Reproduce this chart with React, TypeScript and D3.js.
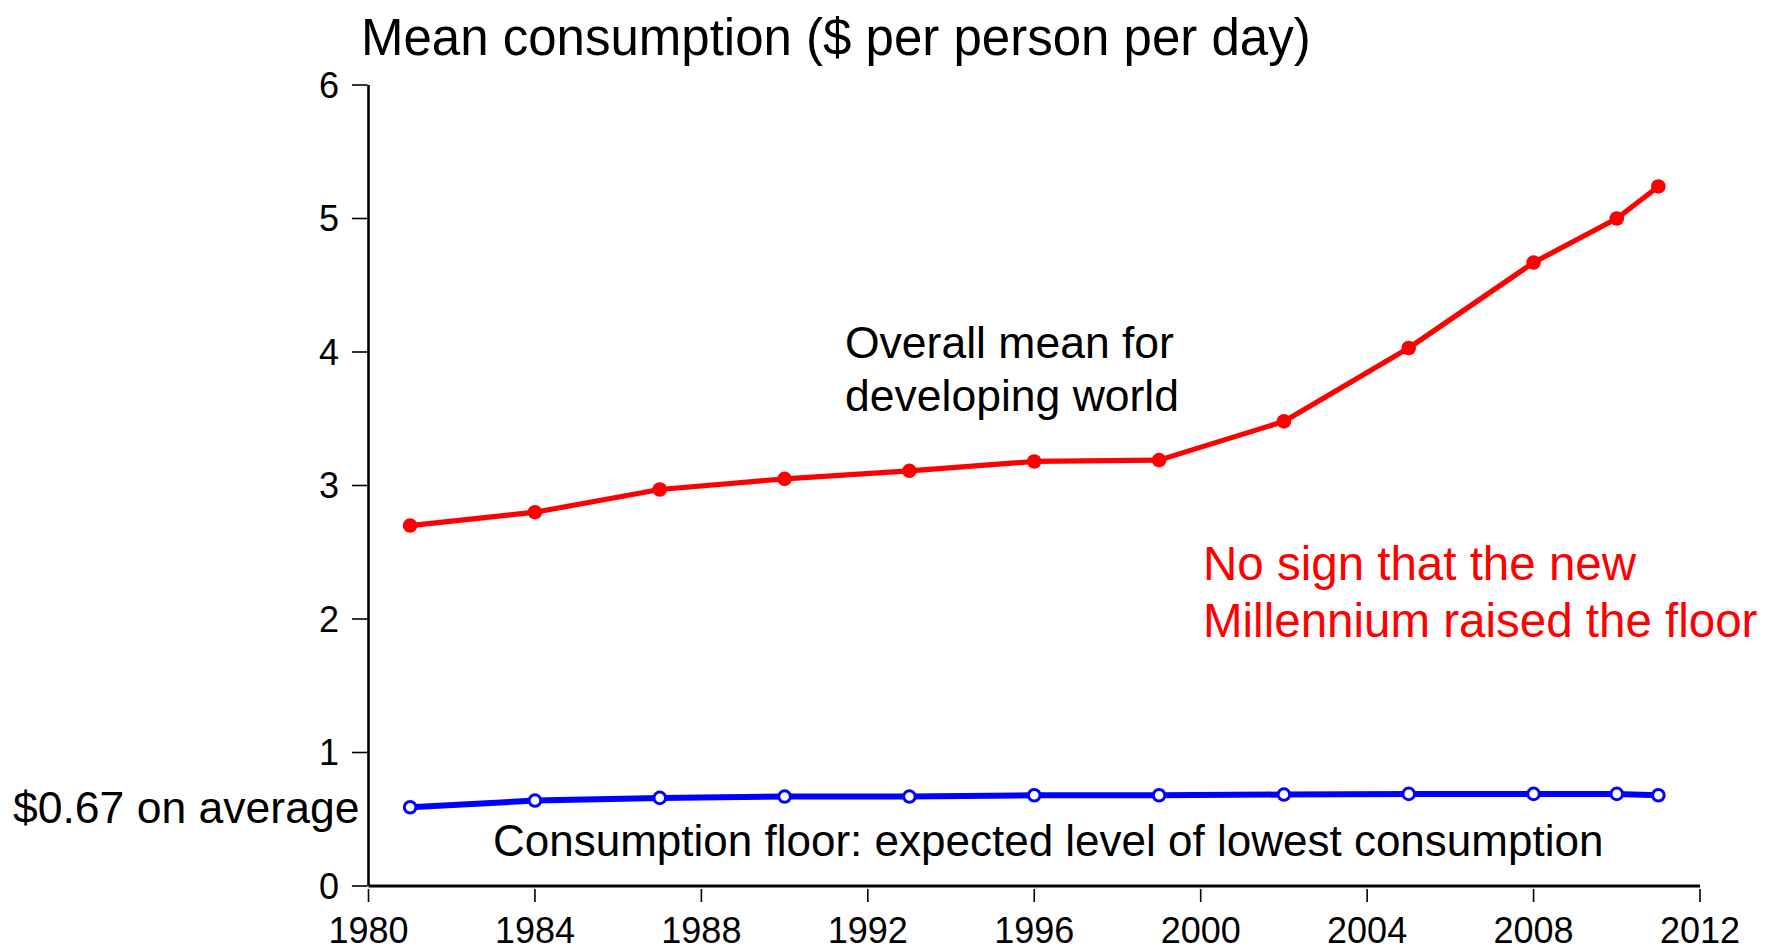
import React from "react";
import * as d3 from "d3";

const years = [1981, 1984, 1987, 1990, 1993, 1996, 1999, 2002, 2005, 2008, 2010, 2011];
const meanConsumption = [2.7, 2.8, 2.97, 3.05, 3.11, 3.18, 3.19, 3.48, 4.03, 4.67, 5.0, 5.24];
const consumptionFloor = [0.59, 0.64, 0.66, 0.67, 0.67, 0.68, 0.68, 0.685, 0.69, 0.69, 0.69, 0.68];
const xTicks = [1980, 1984, 1988, 1992, 1996, 2000, 2004, 2008, 2012];
const yTicks = [0, 1, 2, 3, 4, 5, 6];

const W = 1767;
const H = 947;
const FONT = "'Liberation Sans', Arial, Helvetica, sans-serif";

export default function App() {
  const x = d3.scaleLinear().domain([1980, 2012]).range([368.5, 1700]);
  const y = d3.scaleLinear().domain([0, 6]).range([886, 85]);

  const meanPts: [number, number][] = years.map((yr, i) => [x(yr), y(meanConsumption[i])]);
  const floorPts: [number, number][] = years.map((yr, i) => [x(yr), y(consumptionFloor[i])]);
  const line = d3.line<[number, number]>().x((d) => d[0]).y((d) => d[1]);

  const x0 = x(1980);
  const y0 = y(0);

  return (
    <svg
      width={W}
      height={H}
      viewBox={`0 0 ${W} ${H}`}
      style={{ position: "absolute", left: 0, top: 0, background: "#fff" }}
      fontFamily={FONT}
    >
      <rect x={0} y={0} width={W} height={H} fill="#fff" />
      {/* title */}
      <text x={361} y={55} fontSize={51} fill="#000">
        Mean consumption ($ per person per day)
      </text>

      {/* y axis */}
      <line x1={x0} x2={x0} y1={y(6)} y2={y0} stroke="#000" strokeWidth={2.6} />
      {yTicks.map((t) => (
        <g key={"y" + t}>
          <line x1={352} x2={x0 - 1} y1={y(t)} y2={y(t)} stroke="#000" strokeWidth={1.6} />
          <text x={339} y={y(t)} dy="0.36em" textAnchor="end" fontSize={36} fill="#000">
            {t}
          </text>
        </g>
      ))}

      {/* x axis */}
      <line x1={x0} x2={x(2012)} y1={y0} y2={y0} stroke="#000" strokeWidth={3} />
      {xTicks.map((t) => (
        <g key={"x" + t}>
          <line x1={x(t)} x2={x(t)} y1={y0 + 3} y2={902} stroke="#000" strokeWidth={1.6} />
          <text x={x(t)} y={943} textAnchor="middle" fontSize={36} fill="#000">
            {t}
          </text>
        </g>
      ))}

      {/* mean series */}
      <path d={line(meanPts) || ""} fill="none" stroke="#ff0000" strokeWidth={5.2} strokeLinejoin="round" />
      {meanPts.map((p, i) => (
        <circle key={"m" + i} cx={p[0]} cy={p[1]} r={7.3} fill="#ff0000" />
      ))}

      {/* floor series */}
      <path d={line(floorPts) || ""} fill="none" stroke="#0000ff" strokeWidth={6} strokeLinejoin="round" />
      {floorPts.map((p, i) => (
        <circle key={"f" + i} cx={p[0]} cy={p[1]} r={5.8} fill="#fff" stroke="#0000ff" strokeWidth={3} />
      ))}

      {/* annotations */}
      <text x={845} y={358} fontSize={44.5} fill="#000">
        Overall mean for
      </text>
      <text x={845} y={411} fontSize={44.5} fill="#000">
        developing world
      </text>
      <text x={1203} y={580} fontSize={47.5} fill="#ff0000">
        No sign that the new
      </text>
      <text x={1203} y={637} fontSize={47.5} fill="#ff0000">
        Millennium raised the floor
      </text>
      <text x={13} y={823} fontSize={44.5} fill="#000">
        $0.67 on average
      </text>
      <text x={493} y={856} fontSize={44} fill="#000">
        Consumption floor: expected level of lowest consumption
      </text>
    </svg>
  );
}
